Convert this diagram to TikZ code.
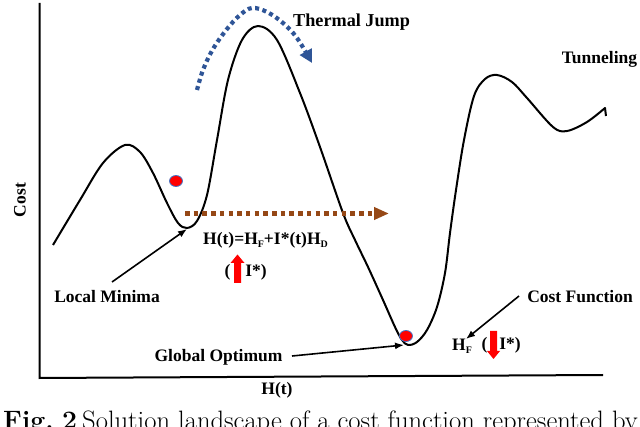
\documentclass[tikz,border=0pt]{standalone}
\usepackage{fontspec}
\setmainfont{Liberation Serif}
\newfontfamily\capfont{Latin Modern Roman}
\usetikzlibrary{arrows.meta}
\definecolor{jumpblue}{RGB}{47,85,151}
\definecolor{tunbrown}{RGB}{150,72,22}
\definecolor{dotedge}{RGB}{68,114,196}
\newcommand{\mysub}[1]{\raisebox{-0.35ex}{\fontsize{10}{10}\selectfont #1}}
\tikzset{
  lbl/.style={font=\fontsize{17.5}{20}\selectfont\bfseries, inner sep=0pt},
  pointer/.style={line width=1.6pt, -{Latex[length=9pt,width=7pt]}},
  ball/.style={fill=red, draw=dotedge, line width=0.8pt},
  redarrow/.style={fill=red, draw=none},
  captxt/.style={anchor=base west, inner sep=0pt, font=\capfont\fontsize{26.6}{30}\selectfont},
}
\begin{document}
\begin{tikzpicture}[x=1pt,y=-1pt]
\useasboundingbox (0,0) rectangle (640,427);
\clip (0,0) rectangle (640,427);
% axes
\coordinate (ytop) at (39.5,3);
\coordinate (orig) at (39.5,378);
\coordinate (xend) at (603,375);
\draw[line width=2pt] (ytop) -- (orig) -- (xend);
\node[lbl, rotate=90] (costlbl) at (20,200) {Cost};
\node[lbl] (htlbl) at (277,390) {H(t)};
% landscape curve
\draw[line width=2pt, line join=round] plot[smooth, tension=0.55] coordinates {
 (53,245) (80,200) (103,163) (125,145) (140,152) (153,173) (167,203) (178,223) (187,228)
 (197,221) (207,195) (217,140) (228,80) (242,40) (258,26) (277,40) (300,93) (320,147)
 (343,213) (355,240) (368,267) (383,300) (395,327) (402,340) (408,345) (417,342) (427,330)
 (437,307) (445,273) (450,233) (456,190) (464,140) (474,96) (485,79) (497,75) (512,82) (527,98) (553,127) (567,131)
 (587,122) (605,108)} -- (606,116);
\coordinate (locmin) at (187,229);
\coordinate (globmin) at (404,345);
% balls
\draw[ball] (176,181) ellipse (6.5 and 5.5);
\draw[ball] (406,336) ellipse (6.5 and 5.5);
% thermal jump
\draw[jumpblue, line width=4.2pt, dash pattern=on 4pt off 3.5pt,
      -{Triangle[length=13pt,width=13pt]}]
  plot[smooth, tension=0.6] coordinates {(197,90) (203,70) (213,49) (227,29) (240,15) (252,8) (267,12) (283,23) (297,38) (312,63)};
\node[lbl, anchor=west, font=\fontsize{18.2}{20}\selectfont\bfseries] (thermal) at (293,22) {Thermal Jump};
% tunneling
\coordinate (tunA) at (185,213.5);
\coordinate (tunB) at (389,213.5);
\draw[tunbrown, line width=4.5pt, dash pattern=on 4.5pt off 4.2pt,
      -{Triangle[length=15pt,width=12pt]}] (tunA) -- (tunB);
\node[lbl] (tunnel) at (599.5,59) {Tunneling};
% equation
\node[lbl, anchor=base west] (eq) at (203,245) {H(t)=H\mysub{F}+I*(t)H\mysub{D}};
\node[lbl] (lp1) at (227.5,272) {(};
\fill[redarrow] (234,283) -- (234,263) -- (230.5,263) -- (237.5,254.5) -- (244.5,263) -- (241,263) -- (241,283) -- cycle;
\node[lbl] (istar1) at (256,272) {I*)};
% labels with pointers
\node[lbl] (locallbl) at (107,297) {Local Minima};
\coordinate (locfrom) at (112,282);
\draw[pointer] (locfrom) -- (locmin);
\node[lbl] (globallbl) at (218.5,357) {Global Optimum};
\coordinate (globfrom) at (292,356);
\draw[pointer] (globfrom) -- (globmin);
\node[lbl] (costfn) at (580,297) {Cost Function};
\coordinate (cffrom) at (519,296);
\coordinate (cfto) at (466,339);
\draw[pointer] (cffrom) -- (cfto);
\node[lbl, anchor=base west] (hf) at (452,351) {H\mysub{F}};
\node[lbl] (lp2) at (484.5,345) {(};
\fill[redarrow] (490,331) -- (490,351) -- (487,351) -- (493.5,359) -- (500,351) -- (497,351) -- (497,331) -- cycle;
\node[lbl] (istar2) at (510,345) {I*)};
% caption (cut off by the page edge, as in the reference)
\node[captxt] (figA) at (3,429) {\textbf{Fig.}};
\node[captxt] (figB) at (62,429) {\textbf{2}};
\node[captxt] (captext) at (82,429) {Solution landscape of a cost function represented by};
\end{tikzpicture}
\end{document}
